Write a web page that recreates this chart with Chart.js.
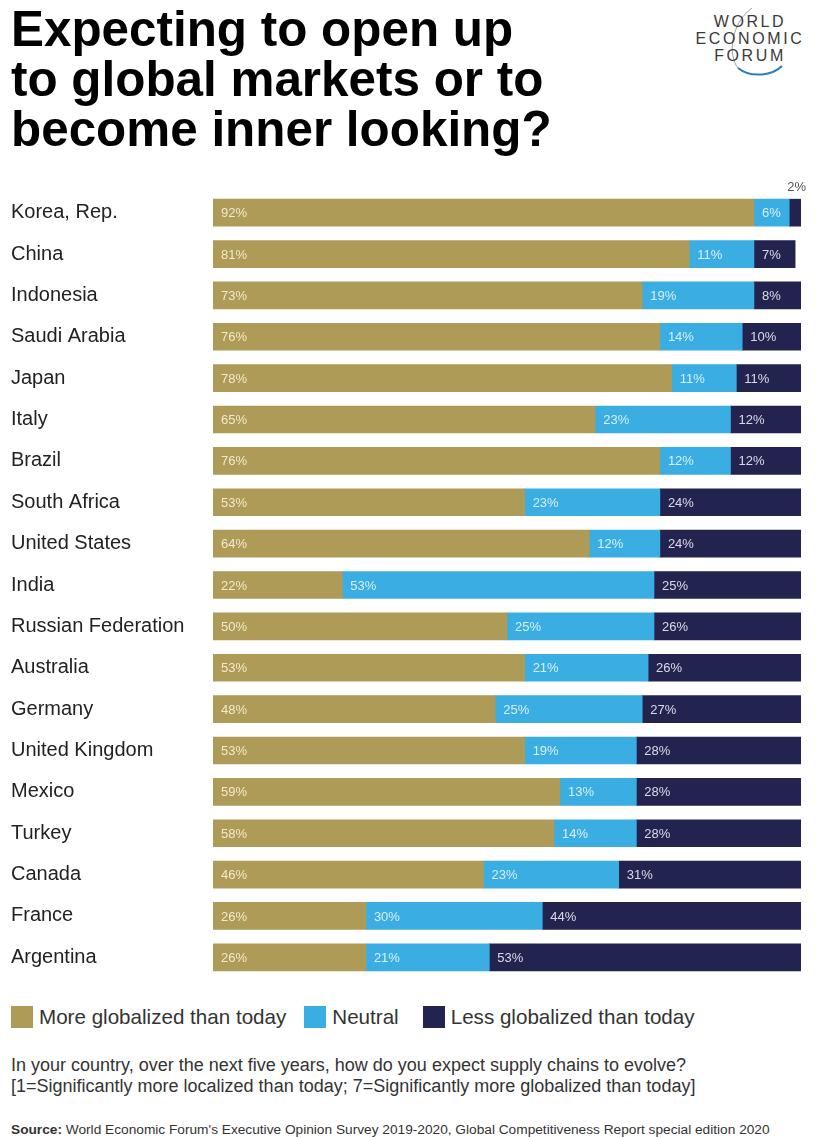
<!DOCTYPE html>
<html>
<head>
<meta charset="utf-8">
<script src="https://cdn.jsdelivr.net/npm/chart.js@4"></script>
<style>
  html, body { margin: 0; padding: 0; background: #fff; }
  body { width: 833px; height: 1137px; position: relative; overflow: hidden; font-family: "Liberation Sans", Arial, sans-serif; }
  h1 { position: absolute; left: 11px; top: 4px; margin: 0; font-size: 49.4px; line-height: 50px; font-weight: bold; color: #000; letter-spacing: 0; }
  .logo { position: absolute; left: 690px; top: 6px; width: 120px; height: 70px; }
  .logo div { position: absolute; width: 120px; text-align: center; font-size: 16px; letter-spacing: 2.6px; color: #3a3a3a; line-height: 16px; }
  #wrap { position: absolute; left: 0; top: 180px; width: 833px; height: 810px; }
  .legend { position: absolute; top: 1005px; left: 11px; font-size: 20.6px; color: #333; white-space: nowrap; }
  .legend span.item { display: inline-block; }
  .legend i { display: inline-block; width: 22px; height: 22px; vertical-align: -4px; margin-right: 6px; }
  .note { position: absolute; left: 11px; top: 1055px; font-size: 18px; line-height: 21px; color: #333; white-space: nowrap; }
  .source { position: absolute; left: 11px; top: 1122px; font-size: 13.7px; color: #333; white-space: nowrap; }
</style>
</head>
<body>
<h1>Expecting to open up<br>to global markets or to<br>become inner looking?</h1>

<div class="logo">
  <svg width="120" height="70" style="position:absolute;left:0;top:0">
    <path d="M62 2 C 40 18, 38 50, 48 62" stroke="#9aa0a8" stroke-width="1" fill="none"/>
    <path d="M48 62 C 60 72, 82 70, 92 60" stroke="#2b7fb8" stroke-width="2" fill="none"/>
  </svg>
  <div style="top:8px">WORLD</div>
  <div style="top:25px">ECONOMIC</div>
  <div style="top:42px">FORUM</div>
</div>

<div id="wrap"><canvas id="chart"></canvas></div>

<div class="legend" id="legend"></div>

<div class="note">In your country, over the next five years, how do you expect supply chains to evolve?<br>[1=Significantly more localized than today; 7=Significantly more globalized than today]</div>
<div class="source"><b>Source:</b> World Economic Forum's Executive Opinion Survey 2019-2020, Global Competitiveness Report special edition 2020</div>

<script>
// categories (countries)
var countries = ["Korea, Rep.", "China", "Indonesia", "Saudi Arabia", "Japan", "Italy", "Brazil",
    "South Africa", "United States", "India", "Russian Federation", "Australia", "Germany",
    "United Kingdom", "Mexico", "Turkey", "Canada", "France", "Argentina"];

// series values (%)
var moreGlobal = [92, 81, 73, 76, 78, 65, 76, 53, 64, 22, 50, 53, 48, 53, 59, 58, 46, 26, 26];
var neutral    = [6, 11, 19, 14, 11, 23, 12, 23, 12, 53, 25, 21, 25, 19, 13, 14, 23, 30, 21];
var lessGlobal = [2, 7, 8, 10, 11, 12, 12, 24, 24, 25, 26, 26, 27, 28, 28, 28, 31, 44, 53];

var seriesNames = ["More globalized than today", "Neutral", "Less globalized than today"];
var seriesColors = ["#ad9b57", "#3aade2", "#23234f"];
var labelColors = ["rgba(245,238,210,0.95)", "rgba(225,243,252,0.95)", "rgba(225,225,240,0.95)"];
var legendGaps = [18, 24, 0];

// legend
var legendEl = document.getElementById("legend");
seriesNames.forEach(function (name, i) {
    var s = document.createElement("span");
    s.className = "item";
    s.style.marginRight = legendGaps[i] + "px";
    s.innerHTML = '<i style="background:' + seriesColors[i] + '"></i>' + name;
    legendEl.appendChild(s);
});

// labels inside the bars
var barLabels = {
    id: "barLabels",
    afterDatasetsDraw: function (chart) {
        var ctx = chart.ctx;
        ctx.save();
        ctx.font = '13px "Liberation Sans", Arial, sans-serif';
        ctx.textBaseline = "middle";
        chart.data.datasets.forEach(function (ds, di) {
            var meta = chart.getDatasetMeta(di);
            meta.data.forEach(function (bar, i) {
                var v = ds.data[i];
                var w = Math.abs(bar.x - bar.base);
                if (w < 20) {
                    // too small: label above the bar, right aligned
                    ctx.fillStyle = "#555";
                    ctx.textAlign = "right";
                    ctx.fillText(v + "%", bar.x + 5, bar.y - 25);
                } else {
                    ctx.fillStyle = labelColors[di];
                    ctx.textAlign = "left";
                    ctx.fillText(v + "%", Math.min(bar.x, bar.base) + 8, bar.y + 1);
                }
            });
        });
        ctx.restore();
    }
};

new Chart(document.getElementById("chart"), {
    type: "bar",
    data: {
        labels: countries,
        datasets: [
            { label: seriesNames[0], data: moreGlobal, backgroundColor: seriesColors[0] },
            { label: seriesNames[1], data: neutral, backgroundColor: seriesColors[1] },
            { label: seriesNames[2], data: lessGlobal, backgroundColor: seriesColors[2] },
        ],
    },
    options: {
        indexAxis: "y",
        responsive: true,
        maintainAspectRatio: false,
        animation: false,
        events: [],
        layout: { padding: { left: 11, right: 32, top: 10, bottom: 12 } },
        datasets: { bar: { barThickness: 27, borderWidth: 0 } },
        plugins: { legend: { display: false }, tooltip: { enabled: false } },
        scales: {
            x: { stacked: true, min: 0, max: 100, display: false },
            y: {
                stacked: true,
                grid: { display: false },
                border: { display: false },
                ticks: {
                    crossAlign: "far",
                    color: "#222",
                    font: { family: '"Liberation Sans", Arial, sans-serif', size: 20 },
                    padding: 0,
                },
                afterFit: function (scale) { scale.width = 202; },
            },
        },
    },
    plugins: [barLabels],
});
</script>
</body>
</html>
